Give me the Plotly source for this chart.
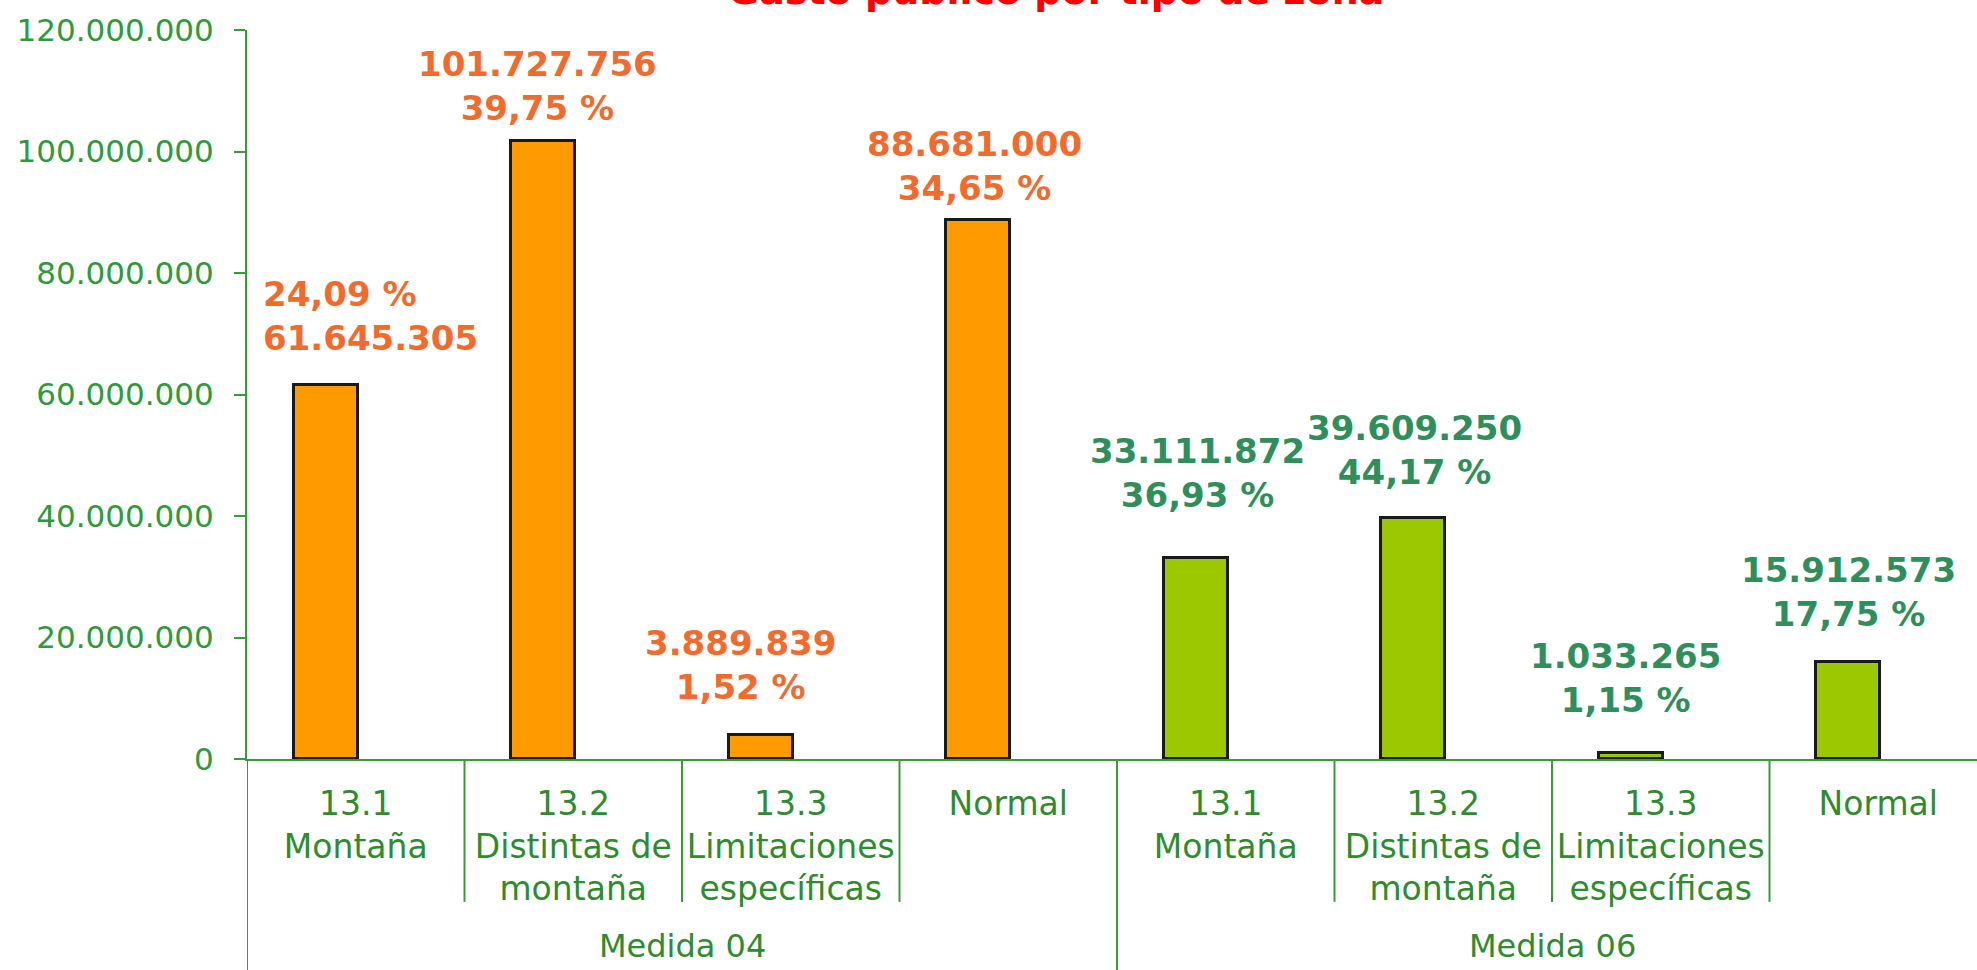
import plotly.graph_objects as go

# data
medidas = ["Medida 04", "Medida 06"]
zonas = ["13.1<br>Montaña", "13.2<br>Distintas de<br>montaña",
         "13.3<br>Limitaciones<br>específicas", "Normal"]
gasto_m04 = [61645305, 101727756, 3889839, 88681000]
gasto_m06 = [33111872, 39609250, 1033265, 15912573]
pct_m04 = ["24,09 %", "39,75 %", "1,52 %", "34,65 %"]
pct_m06 = ["36,93 %", "44,17 %", "1,15 %", "17,75 %"]
y_ticks = [0, 20000000, 40000000, 60000000, 80000000, 100000000, 120000000]

# styling
FONT = "DejaVu Sans"
ORANGE_TXT = "#F26A2C"
GREEN_TXT = "#2F8F5B"
AXIS_GREEN = "#3A9A3A"
BAR_W = 0.294
BAR_SHIFT = -0.138
# label nudges in pixels (dx, dy) and whether percent goes first
label_dx = [-65, -6, -20, -4, 2, 1, -5, 0]
label_dy = [69, 55, 70, 54, 85, 68, 75, 70]
pct_first = [True, False, False, False, False, False, False, False]

n = len(zonas)
x04 = list(range(n))
x06 = list(range(n, 2 * n))
values = gasto_m04 + gasto_m06
pcts = pct_m04 + pct_m06

fig = go.Figure()
fig.add_trace(go.Bar(x=x04, y=gasto_m04, width=BAR_W, offset=BAR_SHIFT - BAR_W / 2,
                     marker=dict(color="#FF9A00", line=dict(color="#1a1a1a", width=3)),
                     showlegend=False, hoverinfo="y"))
fig.add_trace(go.Bar(x=x06, y=gasto_m06, width=BAR_W, offset=BAR_SHIFT - BAR_W / 2,
                     marker=dict(color="#9BC800", line=dict(color="#1a1a1a", width=3)),
                     showlegend=False, hoverinfo="y"))

for i, v in enumerate(values):
    num = f"{v:,}".replace(",", ".")
    txt = f"{pcts[i]}<br>{num}" if pct_first[i] else f"{num}<br>{pcts[i]}"
    left = pct_first[i]
    fig.add_annotation(x=i + BAR_SHIFT, y=v, xref="x", yref="y", text=txt, showarrow=False,
                       xanchor="left" if left else "center", yanchor="middle",
                       align="left" if left else "center",
                       xshift=label_dx[i], yshift=label_dy[i],
                       font=dict(family=FONT, size=34, color=ORANGE_TXT if i < n else GREEN_TXT,
                                 weight="bold"))

# category dividers
for b in range(2 * n + 1):
    long_line = b % n == 0
    fig.add_shape(type="line", xref="x", yref="paper", x0=b - 0.5, x1=b - 0.5,
                  y0=0, y1=-0.32 if long_line else -0.196,
                  line=dict(color=AXIS_GREEN, width=2))

# group labels
for g, name in enumerate(medidas):
    fig.add_annotation(x=g * n + (n - 1) / 2, y=-0.256, xref="x", yref="paper", text=name,
                       showarrow=False, yanchor="middle",
                       font=dict(family=FONT, size=32, color="#2E8B2E"))

# title, mostly cut off by the top edge
fig.add_annotation(x=0.4676, xref="paper", y=1, yref="paper", text="Gasto público por tipo de zona",
                   showarrow=False, yanchor="bottom", yshift=15,
                   font=dict(family=FONT, size=38, color="#FF0000", weight="bold"))

fig.update_layout(
    width=1977, height=970,
    margin=dict(l=247, r=0, t=30, b=211),
    plot_bgcolor="white", paper_bgcolor="white",
    separators=",.",
    bargap=0,
    xaxis=dict(range=[-0.5, -0.5 + 1730 / 217.5], tickvals=x04 + x06, ticktext=zonas * 2,
               showline=True, linecolor=AXIS_GREEN, linewidth=2, ticks="", showgrid=False,
               zeroline=False, ticklabelstandoff=14, automargin=False,
               tickfont=dict(family=FONT, size=33, color="#2E8B2E")),
    yaxis=dict(range=[0, 120000000], tickvals=y_ticks, tickformat=",d",
               showline=True, linecolor=AXIS_GREEN, linewidth=2, ticks="outside", ticklen=11,
               tickcolor=AXIS_GREEN, tickwidth=2, showgrid=False, zeroline=False,
               ticklabelstandoff=14, automargin=False,
               tickfont=dict(family=FONT, size=31, color="#2E9A3A")),
)

fig.write_html("out.html", config={"displayModeBar": False},
               post_script="document.body.style.margin='0';document.body.style.overflow='hidden';")
